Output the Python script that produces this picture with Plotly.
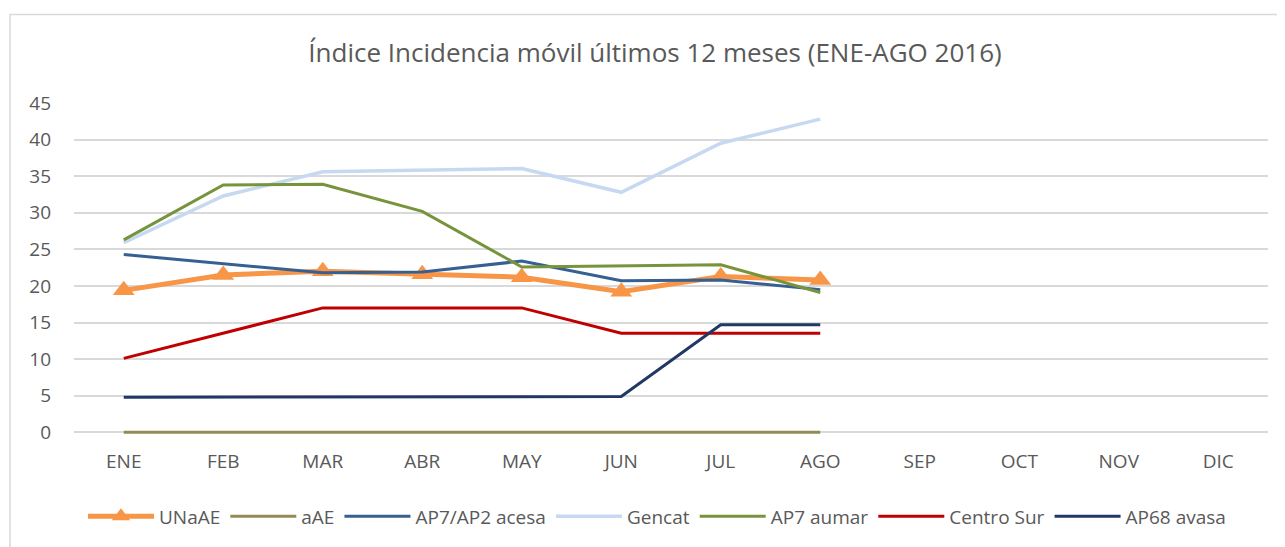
import plotly.graph_objects as go

months = ["ENE", "FEB", "MAR", "ABR", "MAY", "JUN", "JUL", "AGO", "SEP", "OCT", "NOV", "DIC"]

unaae = [19.4, 21.5, 22.0, 21.6, 21.2, 19.2, 21.3, 20.8, None, None, None, None]
aae = [0, 0, 0, 0, 0, 0, 0, 0, None, None, None, None]
acesa = [24.3, 23.0, 21.8, 21.9, 23.4, 20.7, 20.8, 19.5, None, None, None, None]
gencat = [25.9, 32.3, 35.6, 35.8, 36.05, 32.8, 39.5, 42.8, None, None, None, None]
aumar = [26.3, 33.8, 33.9, 30.2, 22.6, 22.7, 22.9, 19.1, None, None, None, None]
centro_sur = [10.1, 13.55, 17.0, 17.0, 17.0, 13.55, 13.55, 13.55, None, None, None, None]
avasa = [4.8, 4.8, 4.8, 4.8, 4.85, 4.9, 14.7, 14.7, None, None, None, None]

series = [
    ("UNaAE", unaae, "#F79646", 5),
    ("aAE", aae, "#948A54", 3),
    ("AP7/AP2 acesa", acesa, "#376092", 3),
    ("Gencat", gencat, "#C6D9F1", 3.5),
    ("AP7 aumar", aumar, "#77933C", 3),
    ("Centro Sur", centro_sur, "#C00000", 3),
    ("AP68 avasa", avasa, "#1F3864", 3),
]

fig = go.Figure()
for name, vals, color, w in series:
    if name == "UNaAE":
        fig.add_trace(go.Scatter(
            x=months, y=vals, name=name, mode="lines+markers",
            line=dict(color=color, width=w),
            marker=dict(symbol="triangle-up", size=19, color=color),
        ))
    else:
        fig.add_trace(go.Scatter(
            x=months, y=vals, name=name, mode="lines",
            line=dict(color=color, width=w),
        ))

# page body has an 8px margin; compensate
OFF = 8
PXU = 330 / 45.0          # pixels per y unit
YMIN = -0.5               # small pad so the zero line is not clipped
W, H = 1285 - OFF, 547 - OFF
L, R, T = 74 - OFF, 1268 - OFF, 102.7 - OFF
B0 = 432.7 - OFF          # pixel of y = 0
B = B0 + (-YMIN) * PXU    # plot bottom
ph = B - T
pw = R - L

fig.update_layout(
    width=W, height=H,
    margin=dict(l=L, r=W - R, t=T, b=H - B, pad=0, autoexpand=False),
    paper_bgcolor="white", plot_bgcolor="white",
    font=dict(family="Open Sans", color="#595959", size=19),
    title=dict(
        text="Índice Incidencia móvil últimos 12 meses (ENE-AGO 2016)",
        x=(655 - OFF) / W, xanchor="center", y=1 - (53 - OFF) / H, yanchor="middle",
        font=dict(size=26, color="#595959", family="Open Sans"),
    ),
    xaxis=dict(
        type="category", categoryorder="array", categoryarray=months,
        range=[-0.5, 11.5], showgrid=False, showline=False, zeroline=False,
        ticks="", tickfont=dict(size=19, color="#595959"), ticklabelstandoff=12,
        automargin=False,
    ),
    yaxis=dict(
        range=[YMIN, 45], dtick=5, tick0=0, showgrid=True, gridcolor="#D9D9D9",
        gridwidth=1.5, zeroline=False, showline=False, ticks="",
        tickfont=dict(size=19, color="#595959"), ticklabelstandoff=22,
        automargin=False,
    ),
    legend=dict(
        orientation="h", x=0.5 - 14 / pw, xanchor="center", y=(B - (517 - OFF)) / ph,
        yanchor="middle", font=dict(size=19, color="#595959"), itemwidth=66,
        tracegroupgap=0,
    ),
    showlegend=True,
    shapes=[dict(
        type="rect", xref="paper", yref="paper",
        x0=(10 - OFF - L) / pw, x1=(W + 20 - L) / pw,
        y0=(B - (H + 20)) / ph, y1=(B - (14 - OFF)) / ph,
        line=dict(color="#D9D9D9", width=1.5), fillcolor="rgba(0,0,0,0)", layer="below",
    )],
)

fig.write_html("out.html")
